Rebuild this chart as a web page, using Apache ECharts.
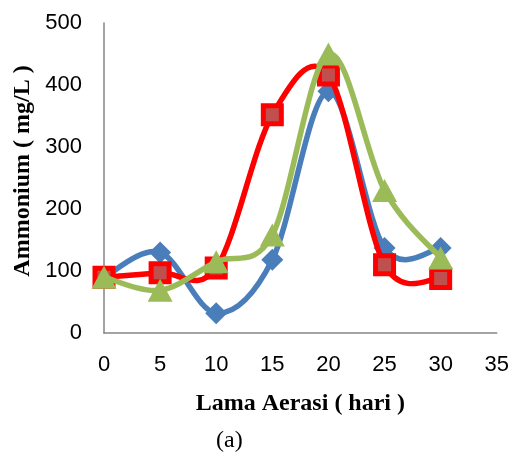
<!DOCTYPE html>
<html><head><meta charset="utf-8">
<script src="https://cdn.jsdelivr.net/npm/echarts@6/dist/echarts.min.js"></script>
<style>html,body{margin:0;padding:0;background:#fff}#c{width:512px;height:452px}</style>
</head><body><div id="c"></div>
<script>
const xValues = [0, 5, 10, 15, 20, 25, 30];
const blueSeries = [90, 130, 32, 118, 390, 137, 137];
const redSeries = [90, 97, 105, 352, 416, 110, 88];
const greenSeries = [90, 69, 115, 158, 450, 230, 121];
const yTicks = [0, 100, 200, 300, 400, 500];
const xAxisTitle = 'Lama Aerasi ( hari )';
const yAxisTitle = 'Ammonium ( mg/L )';
const caption = '(a)';

const pair = arr => xValues.map((x, i) => [x, arr[i]]);

// Excel-like smoothed line (Catmull-Rom -> cubic Bezier), positioned by the axes
function smoothLine(arr, color, z) {
  return {
    type: 'custom', z: z, silent: true,
    data: pair(arr), encode: {x: 0, y: 1},
    renderItem: (params, api) => {
      if (params.dataIndex !== 0) return null;
      const p = xValues.map((x, i) => api.coord([x, arr[i]]));
      const n = p.length, children = [];
      for (let i = 0; i < n - 1; i++) {
        const p0 = p[Math.max(i - 1, 0)], p1 = p[i], p2 = p[i + 1], p3 = p[Math.min(i + 2, n - 1)];
        children.push({
          type: 'bezierCurve',
          shape: {
            x1: p1[0], y1: p1[1], x2: p2[0], y2: p2[1],
            cpx1: p1[0] + (p2[0] - p0[0]) / 6, cpy1: p1[1] + (p2[1] - p0[1]) / 6,
            cpx2: p2[0] - (p3[0] - p1[0]) / 6, cpy2: p2[1] - (p3[1] - p1[1]) / 6
          },
          style: {stroke: color, lineWidth: 5.5, fill: 'none', lineCap: 'round', lineJoin: 'round'}
        });
      }
      return {type: 'group', children: children};
    }
  };
}

const chart = echarts.init(document.getElementById('c'), null, {renderer: 'canvas'});
chart.setOption({
  animation: false,
  backgroundColor: '#fff',
  grid: {left: 104, right: 15, top: 23, bottom: 119},
  xAxis: {
    type: 'value', min: 0, max: 35, interval: 5,
    name: xAxisTitle, nameLocation: 'middle', nameGap: 59,
    nameTextStyle: {fontFamily: 'Liberation Serif', fontWeight: 'bold', fontSize: 24, color: '#000'},
    axisLine: {lineStyle: {color: '#868686', width: 1.5}},
    axisTick: {show: false}, splitLine: {show: false},
    axisLabel: {fontFamily: 'Liberation Sans', fontSize: 22, color: '#000', margin: 21}
  },
  yAxis: {
    type: 'value', min: 0, max: 500, interval: 100,
    name: yAxisTitle, nameLocation: 'middle', nameGap: 69,
    nameTextStyle: {fontFamily: 'Liberation Serif', fontWeight: 'bold', fontSize: 24, color: '#000', padding: [0, 0, 0, 14]},
    axisLine: {show: true, lineStyle: {color: '#868686', width: 1.5}},
    axisTick: {show: false}, splitLine: {show: false},
    axisLabel: {fontFamily: 'Liberation Sans', fontSize: 22, color: '#000', margin: 22,
      formatter: v => yTicks.includes(v) ? String(v) : ''}
  },
  series: [
    smoothLine(blueSeries, '#4a7ebb', 2),
    {type: 'scatter', z: 3, data: pair(blueSeries), symbol: 'diamond', symbolSize: 22,
     itemStyle: {color: '#4a7ebb', opacity: 1}},
    smoothLine(redSeries, '#ff0000', 4),
    {type: 'scatter', z: 5, data: pair(redSeries), symbol: 'rect', symbolSize: 18,
     itemStyle: {color: '#c0504d', borderColor: '#ff0000', borderWidth: 5, opacity: 1}},
    smoothLine(greenSeries, '#9bbb59', 6),
    {type: 'scatter', z: 7, data: pair(greenSeries), symbol: 'triangle', symbolSize: [25, 23],
     itemStyle: {color: '#9bbb59', opacity: 1}}
  ],
  graphic: [{type: 'text', left: 216, top: 429,
    style: {text: caption, fontFamily: 'Liberation Serif', fontSize: 24, fill: '#000'}}]
});
</script></body></html>
